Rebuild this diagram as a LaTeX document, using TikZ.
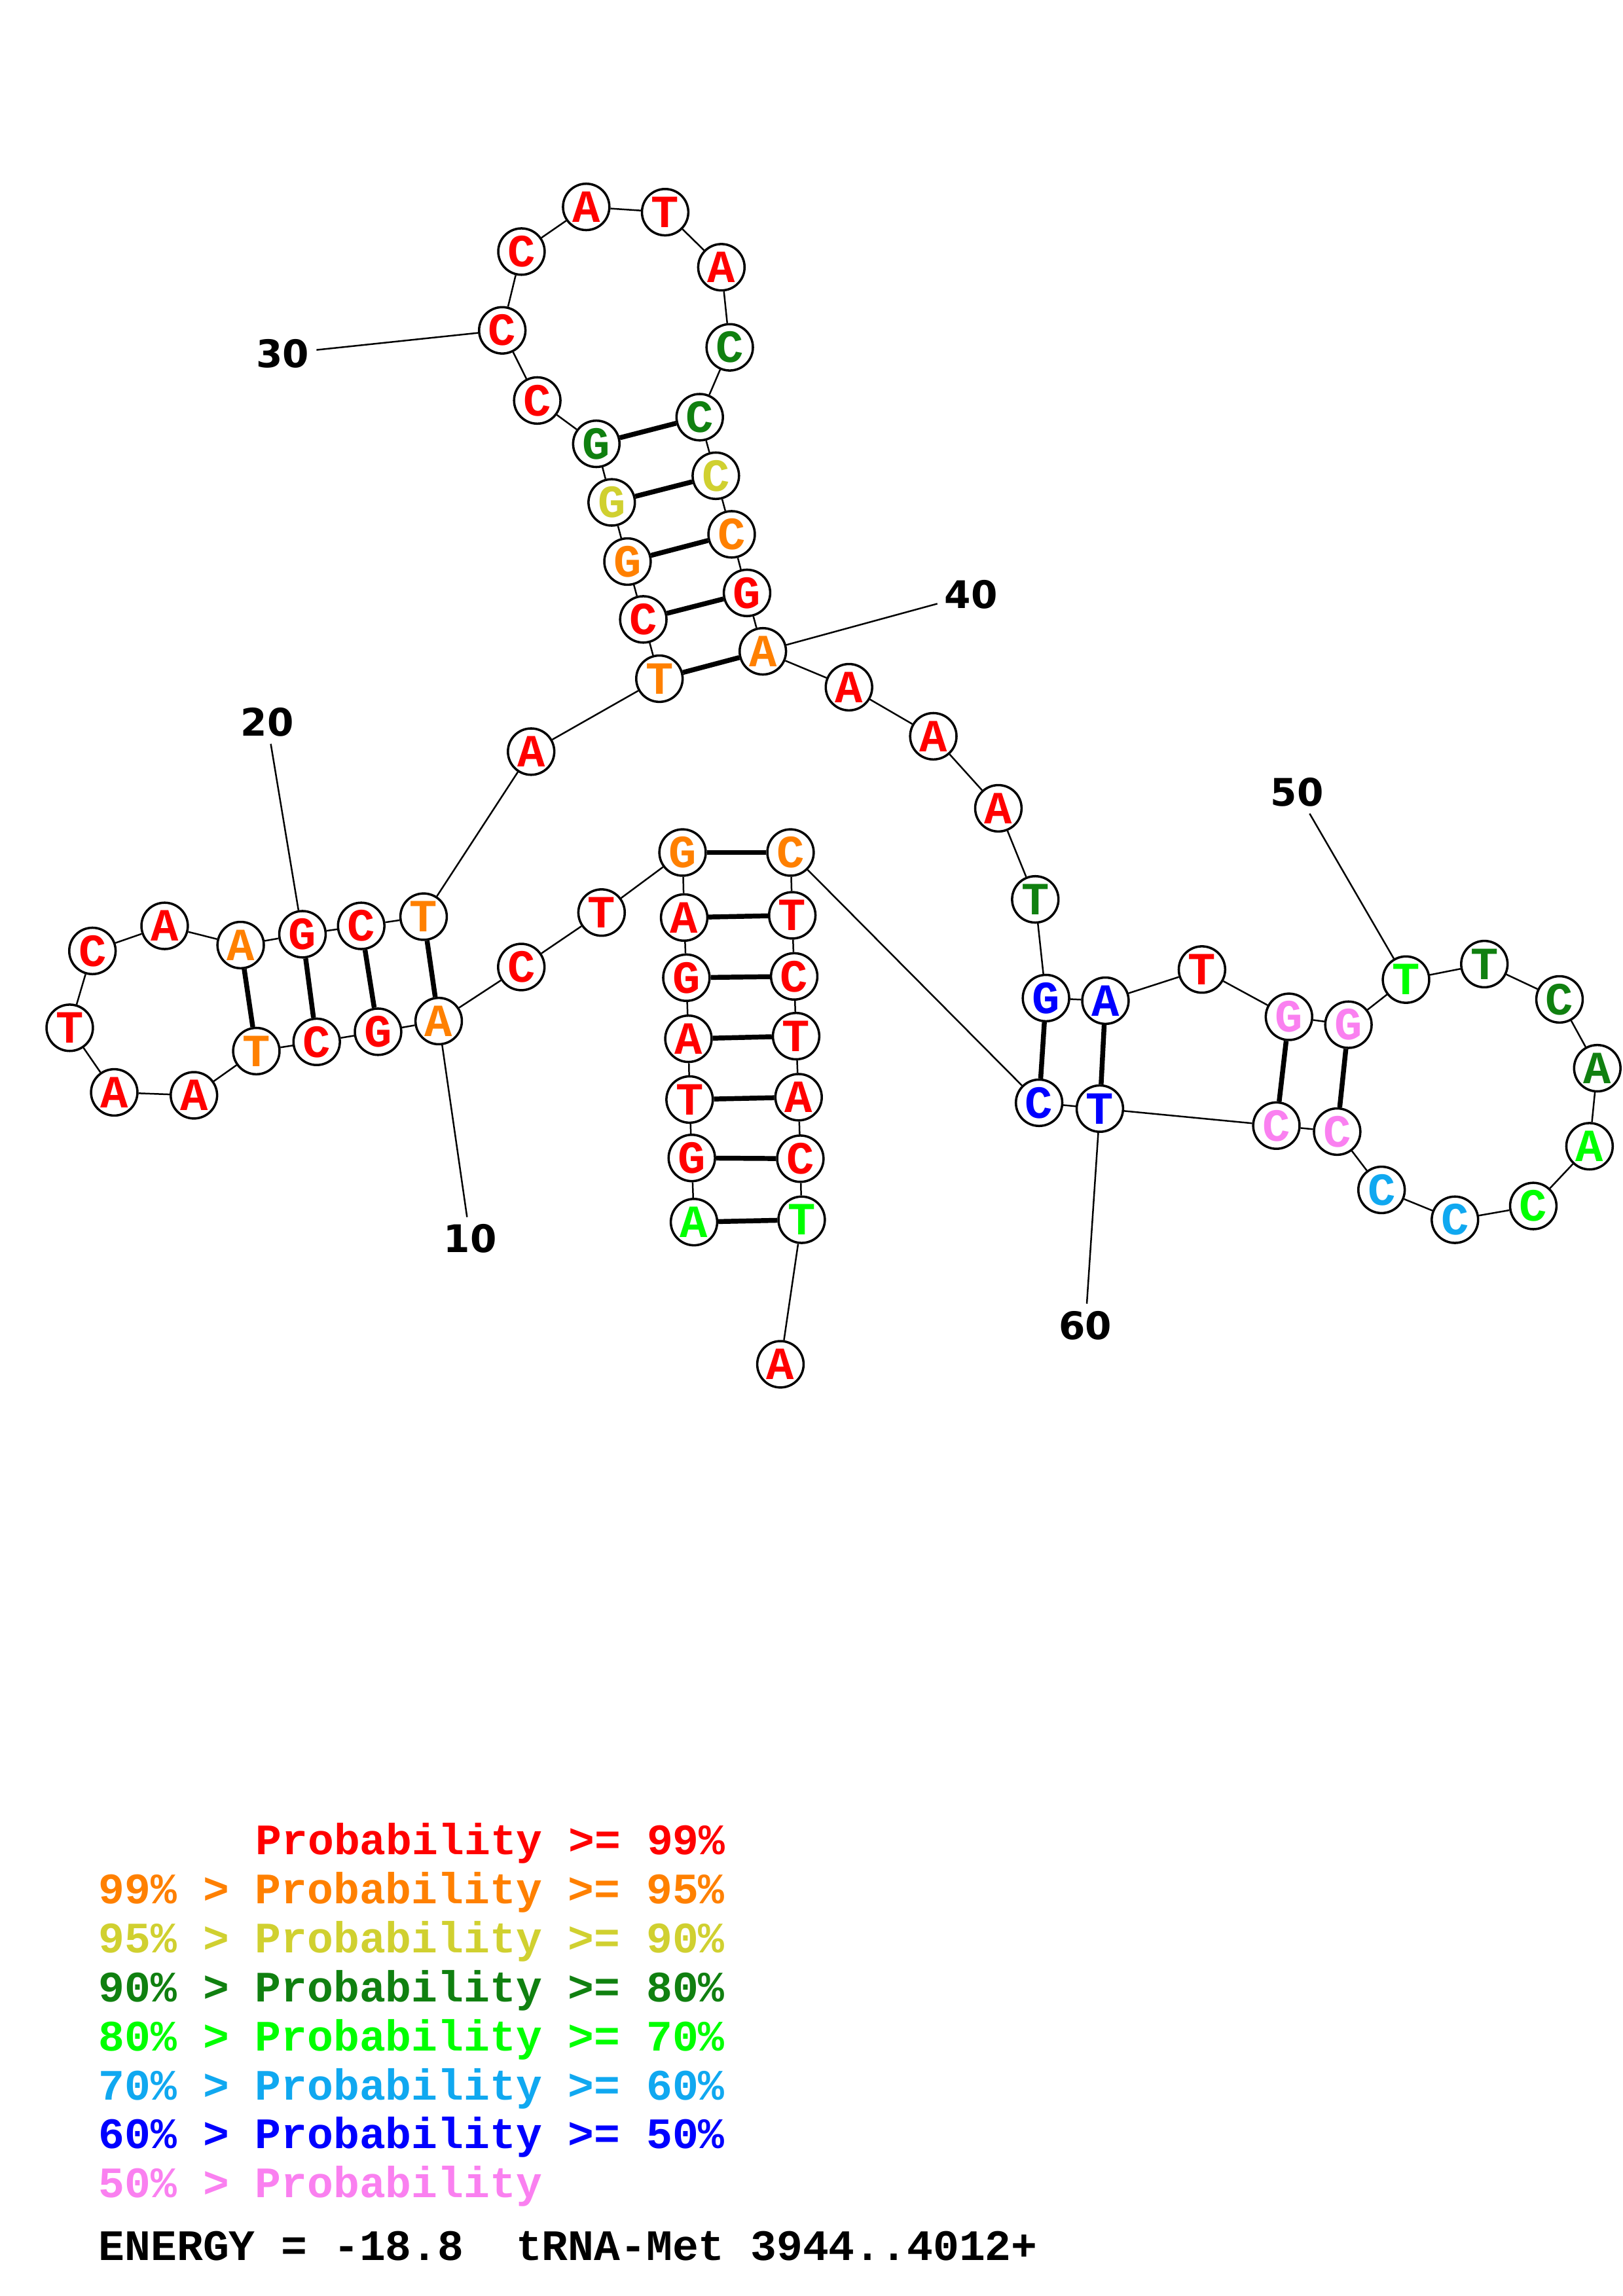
\documentclass[tikz,border=0pt]{standalone}
\usepackage{fontspec}
\usepackage{tikz}
\newfontfamily\ntfont{Liberation Mono}
\newfontfamily\numfont{DejaVu Sans}
\definecolor{pR}{RGB}{255,0,0}
\definecolor{pO}{RGB}{255,128,0}
\definecolor{pY}{RGB}{208,208,48}
\definecolor{pDG}{RGB}{16,128,16}
\definecolor{pG}{RGB}{0,255,0}
\definecolor{pLB}{RGB}{16,168,240}
\definecolor{pB}{RGB}{0,0,255}
\definecolor{pP}{RGB}{250,128,240}

\begin{document}
\begin{tikzpicture}[x=0.0189531cm,y=-0.0189531cm,
  nt/.style={circle,draw,line width=0.85pt,fill=white,inner sep=0pt,minimum size=0.6cm,
    font=\ntfont\bfseries\fontsize{17}{17}\selectfont},
  bb/.style={line width=0.6pt},
  pair/.style={line width=1.8pt},
  numlab/.style={inner sep=2.5pt,font=\numfont\bfseries\fontsize{14}{14}\selectfont},
  legend/.style={anchor=base west,inner sep=0pt,font=\ntfont\bfseries\fontsize{16}{16}\selectfont}]
\useasboundingbox (0,0) rectangle (1108,1568);
% nucleotides, 5' to 3'
\foreach \i/\b/\c/\x/\y in {
  1/A/pG/473.8/834.6, 2/G/pR/472.3/790.8, 3/T/pR/470.8/750.9, 4/A/pR/470/709.4,
  5/G/pR/468.6/667.7, 6/A/pR/467.1/626.6, 7/G/pO/466/582.2, 8/T/pR/410.7/623.2,
  9/C/pR/355.9/660.4, 10/A/pO/299.5/697.3, 11/G/pR/258.1/704.6, 12/C/pR/216.2/711.5,
  13/T/pO/175/717.8, 14/A/pR/132.4/748, 15/A/pR/78/746, 16/T/pR/47.6/701.9,
  17/C/pR/63.1/649.4, 18/A/pR/112.4/632.3, 19/A/pO/164.3/645.4, 20/G/pR/206.5/638,
  21/C/pR/246.6/632.3, 22/T/pO/289.2/626, 23/A/pR/362.6/513.3, 24/T/pO/450.2/463.5,
  25/C/pR/439.2/423, 26/G/pO/428.4/383.5, 27/G/pY/417.6/343.1, 28/G/pDG/407.1/303.1,
  29/C/pR/366.8/273.5, 30/C/pR/342.9/225.6, 31/C/pR/356/171.8, 32/A/pR/400.2/141.3,
  33/T/pR/454.1/144.9, 34/A/pR/492.5/182.5, 35/C/pDG/498.2/237.2, 36/C/pDG/477.7/284.9,
  37/C/pY/488.7/324.9, 38/C/pO/499.5/364.9, 39/G/pR/510/404.9, 40/A/pO/520.8/444.8,
  41/A/pR/579.6/469.3, 42/A/pR/637.2/502.8, 43/A/pR/681.6/552, 44/T/pDG/706.8/614.2,
  45/G/pB/714.1/681.6, 46/A/pB/754.7/683.4, 47/T/pR/820.6/662.1, 48/G/pP/880/694.4,
  49/G/pP/920.6/699.8, 50/T/pG/959.9/669, 51/T/pDG/1013.4/658.4, 52/C/pDG/1064.7/682.5,
  53/A/pDG/1090.5/729.5, 54/A/pG/1085.2/782.8, 55/C/pG/1046.8/823.6, 56/C/pLB/993.3/833,
  57/C/pLB/943.2/812.6, 58/C/pP/912.9/772.8, 59/C/pP/871.4/768.7, 60/T/pB/750.9/757.1,
  61/C/pB/709.4/753.1, 62/C/pO/539.7/582.2, 63/T/pR/540.9/625.1, 64/C/pR/542.2/666.8,
  65/T/pR/543.5/707.6, 66/A/pR/545.2/749.3, 67/C/pR/546.4/791.3, 68/T/pG/547.3/833,
  69/A/pR/532.8/931.7}
  \node[nt,text=\c] (n\i) at (\x,\y) {\b};
% backbone
\foreach \i [count=\j from 2] in {1,...,68}
  \draw[bb] (n\i) -- (n\j);
% base pairs
\foreach \a/\b in {1/68,2/67,3/66,4/65,5/64,6/63,7/62,10/22,11/21,12/20,13/19,
  24/40,25/39,26/38,27/37,28/36,45/61,46/60,48/59,49/58}
  \draw[pair] (n\a) -- (n\b);
% position numbers
\foreach \k/\x/\y in {10/321/846,20/182.4/493.2,30/193/241.4,40/663/406,50/885.5/540.8,60/741/905.1}{
  \node[numlab] (l\k) at (\x,\y) {\k};
  \draw[bb] (n\k) -- (l\k);
}
% legend
\node[legend,text=pR] (leg99) at (174.2,1266.5) {Probability~>=~99\%};
\foreach \c/\hi/\lo [count=\k from 1] in {pO/99/95,pY/95/90,pDG/90/80,pG/80/70,pLB/70/60,pB/60/50}
  \node[legend,text=\c] (leg\lo) at (67,1266.5+33.48*\k) {\hi\%~>~Probability~>=~\lo\%};
\node[legend,text=pP] (leglow) at (67,1500.9) {50\%~>~Probability};
\node[legend] (energy) at (67,1543.8) {ENERGY~=~-18.8~~tRNA-Met~3944..4012+};
\end{tikzpicture}
\end{document}
